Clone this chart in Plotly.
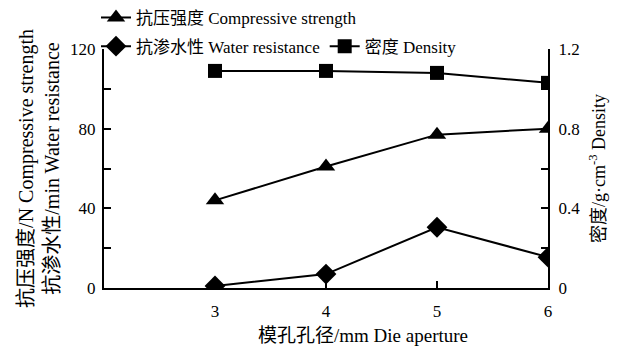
import plotly.graph_objects as go

aperture = [3, 4, 5, 6]
compressive = [44, 61, 77, 80]
water = [1, 7, 30.5, 15.5]
density = [1.09, 1.09, 1.08, 1.03]

FONT = "Liberation Serif, Times New Roman, Noto Sans CJK SC, serif"

fig = go.Figure()
fig.add_trace(go.Scatter(x=aperture, y=compressive, mode="lines+markers",
                         name="抗压强度 Compressive strength", showlegend=True,
                         line=dict(color="black", width=2),
                         marker=dict(symbol="triangle-up", size=16, color="black"),
                         legend="legend"))
fig.add_trace(go.Scatter(x=aperture, y=water, mode="lines+markers",
                         name="抗渗水性 Water resistance", showlegend=True,
                         line=dict(color="black", width=2),
                         marker=dict(symbol="diamond", size=16, color="black"),
                         legend="legend2"))
fig.add_trace(go.Scatter(x=aperture, y=density, mode="lines+markers",
                         name="密度 Density", yaxis="y2", showlegend=True,
                         line=dict(color="black", width=2),
                         marker=dict(symbol="square", size=14, color="black"),
                         legend="legend2"))

axis_common = dict(showline=True, linecolor="black", linewidth=2, ticks="inside",
                   tickcolor="black", tickwidth=2, ticklen=7, showgrid=False,
                   zeroline=False, tickfont=dict(size=17, color="black"))

fig.update_layout(
    width=616, height=341,
    margin=dict(l=96, r=76, t=41, b=61, autoexpand=False),
    showlegend=True,
    paper_bgcolor="white", plot_bgcolor="white",
    font=dict(family=FONT, color="black", size=16),
    xaxis=dict(range=[2, 6], tickvals=aperture, **axis_common, ticklabelstandoff=7),
    yaxis=dict(range=[0, 120], tickvals=[0, 40, 80, 120], **axis_common, ticklabelstandoff=3,
               minor=dict(ticks="inside", dtick=20, ticklen=7, tickwidth=2, tickcolor="black"),
               title=dict(text="抗压强度/N Compressive strength<br>抗渗水性/min Water resistance",
                          font=dict(size=20), standoff=5)),
    yaxis2=dict(range=[0, 1.2], tickvals=[0, 0.4, 0.8, 1.2], ticktext=["0", "0.4", "0.8", "1.2"],
                overlaying="y", side="right", **axis_common, ticklabelstandoff=5,
                minor=dict(ticks="inside", dtick=0.2, ticklen=7, tickwidth=2, tickcolor="black"),
                title=dict(text="密度/g·cm<sup>-3</sup> Density", font=dict(size=18), standoff=13)),
    legend=dict(x=-0.018, y=1.13, xanchor="left", yanchor="middle", orientation="h",
                bgcolor="rgba(0,0,0,0)", font=dict(size=17), itemwidth=30),
    legend2=dict(x=-0.018, y=1.01, xanchor="left", yanchor="middle", orientation="h",
                 bgcolor="rgba(0,0,0,0)", font=dict(size=17), itemwidth=30),
    annotations=[dict(text="模孔孔径/mm Die aperture", xref="paper", yref="paper",
                      x=0.583, y=-0.197, xanchor="center", yanchor="middle",
                      showarrow=False, font=dict(size=19))],
)

fig.write_html("out.html")
